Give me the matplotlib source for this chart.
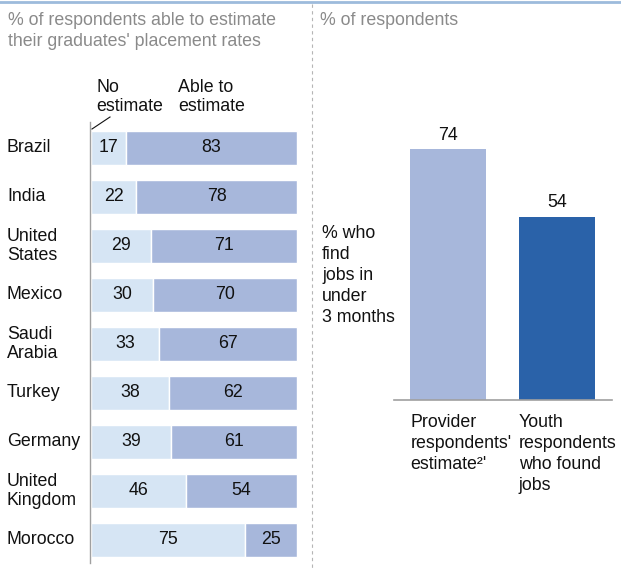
import matplotlib
matplotlib.use("Agg")
import matplotlib.pyplot as plt
import matplotlib.transforms as mtransforms
from matplotlib.lines import Line2D

plt.rcParams['font.family'] = ['Liberation Sans', 'DejaVu Sans']

# left panel data
countries = ["Brazil", "India", "United\nStates", "Mexico", "Saudi\nArabia",
             "Turkey", "Germany", "United\nKingdom", "Morocco"]
no_estimate = [17, 22, 29, 30, 33, 38, 39, 46, 75]
able_to_estimate = [83, 78, 71, 70, 67, 62, 61, 54, 25]

# right panel data
groups = ["Provider\nrespondents'\nestimate\u00b2'", "Youth\nrespondents\nwho found\njobs"]
find_jobs = [74, 54]

W, H = 621, 570
LIGHT = "#d6e5f4"
MID = "#a7b7db"
DARK = "#2a62a9"
GREY_TXT = "#8a8a8a"
FS = 12.8
LS = 1.22
LS_R = 1.3

fig = plt.figure(figsize=(W / 100, H / 100), dpi=100)


def fx(px):
    return px / W


def fy(py):
    return 1 - py / H


# frame decorations
fig.add_artist(Line2D([0, 1], [fy(1.5), fy(1.5)], color="#9dbbdc", lw=2))
fig.add_artist(Line2D([fx(312), fx(312)], [fy(4), fy(570)], color="#b5b5b5",
                      lw=0.8, ls=(0, (3, 3))))

fig.text(fx(8), fy(12), "% of respondents able to estimate\ntheir graduates' placement rates",
         color=GREY_TXT, fontsize=FS, va="top", ha="left", linespacing=1.3)
fig.text(fx(320), fy(12), "% of respondents", color=GREY_TXT, fontsize=FS,
         va="top", ha="left")

# ---- left panel: stacked bars
ax = fig.add_axes([fx(90), fy(563), fx(298) - fx(90), (563 - 122) / H])
y = list(range(len(countries)))
ax.barh(y, no_estimate, height=0.68, color=LIGHT, edgecolor="white", lw=1)
ax.barh(y, able_to_estimate, left=no_estimate, height=0.68, color=MID,
        edgecolor="white", lw=1)
for i in y:
    ax.text(no_estimate[i] / 2, i, str(no_estimate[i]), ha="center", va="center",
            fontsize=FS, color="#111111")
    ax.text(no_estimate[i] + able_to_estimate[i] / 2, i, str(able_to_estimate[i]),
            ha="center", va="center", fontsize=FS, color="#111111")
ax.set_xlim(-0.5, 100.5)
ax.set_ylim(8.47, -0.53)
for s in ["top", "right", "bottom"]:
    ax.spines[s].set_visible(False)
ax.spines["left"].set_color("#a0a0a0")
ax.spines["left"].set_linewidth(1)
ax.set_xticks([])
ax.set_yticks([])

trans = mtransforms.blended_transform_factory(fig.transFigure, ax.transData)
for i, name in enumerate(countries):
    ax.text(fx(7), i, name, transform=trans, ha="left", va="center", fontsize=FS,
            linespacing=LS, color="#111111")

fig.text(fx(96), fy(97), "No\nestimate", ha="left", va="center", fontsize=FS,
         linespacing=LS, color="#111111")
fig.text(fx(178), fy(97), "Able to\nestimate", ha="left", va="center", fontsize=FS,
         linespacing=LS, color="#111111")
fig.add_artist(Line2D([fx(92), fx(110)], [fy(129), fy(117)], color="#111111", lw=0.8))

# ---- right panel: two bars
ax2 = fig.add_axes([fx(394), fy(400), fx(612) - fx(394), 300 / H])
x = [0, 1]
ax2.bar(x, find_jobs, width=0.7, color=[MID, DARK])
for i, v in enumerate(find_jobs):
    ax2.annotate(str(v), (x[i], v), xytext=(0, 4), textcoords="offset points",
                 ha="center", va="bottom", fontsize=FS, color="#111111")
ax2.set_xlim(-0.5, 1.51)
ax2.set_ylim(0, 300 / 3.39)
for s in ["top", "right", "left"]:
    ax2.spines[s].set_visible(False)
ax2.spines["bottom"].set_color("#a0a0a0")
ax2.spines["bottom"].set_linewidth(1.2)
ax2.set_xticks([])
ax2.set_yticks([])

trans2 = mtransforms.blended_transform_factory(ax2.transData, fig.transFigure)
for i, g in enumerate(groups):
    ax2.text(x[i] - 0.35, fy(414), g, transform=trans2, ha="left", va="top",
             fontsize=FS, linespacing=LS_R, color="#111111")

fig.text(fx(322), fy(225), "% who\nfind\njobs in\nunder\n3 months", ha="left", va="top",
         fontsize=FS, linespacing=LS_R, color="#111111")

fig.savefig("out.png", dpi=100)
